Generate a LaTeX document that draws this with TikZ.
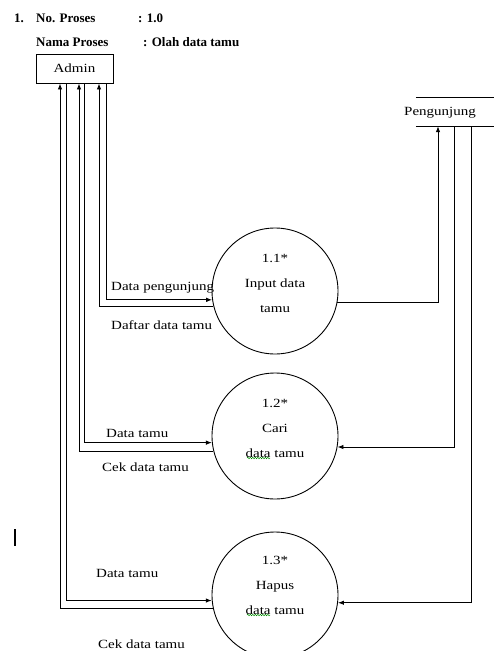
\documentclass[tikz,border=0pt]{standalone}
\usepackage{fontspec}
\setmainfont{Liberation Serif}[FakeStretch=1.2]
\newfontfamily\hdrfont{Liberation Serif}
\usetikzlibrary{arrows.meta,decorations.pathmorphing}
\begin{document}
\begin{tikzpicture}[x=1pt,y=-1pt,
  lbl/.style={font=\fontsize{12.5}{14}\selectfont, inner sep=0, anchor=west},
  hdr/.style={font=\hdrfont\bfseries\fontsize{13}{15}\selectfont, inner sep=0, anchor=west},
  ctext/.style={font=\fontsize{12.5}{25}\selectfont, align=center, inner sep=0},
  proc/.style={circle, draw, minimum size=126pt, inner sep=0, line width=0.9pt},
  ent/.style={draw, line width=0.9pt, minimum width=77pt, minimum height=29pt, inner sep=0, font=\fontsize{12.5}{14}\selectfont},
  flow/.style={line width=0.9pt, -{Latex[length=6pt,width=4.5pt]}},
  squig/.style={green!55!black, line width=0.5pt, decorate, decoration={snake, amplitude=0.7pt, segment length=2.5pt}}]
\useasboundingbox (0,0) rectangle (494,651);
% header
\node[hdr] (n1) at (14,18) {1.};
\node[hdr] (np) at (36,18) {No. Proses};
\node[hdr] (v1) at (138,18) {: 1.0};
\node[hdr] (nm) at (36,42) {Nama Proses};
\node[hdr] (v2) at (143,42) {: Olah data tamu};
% entities
\node[ent] (admin) at (74.5,68.5) {Admin};
\node[inner sep=0, minimum width=78pt, minimum height=28pt] (peng) at (455,112) {};
\draw[line width=0.9pt] (peng.north west) -- (peng.north east);
\draw[line width=0.9pt] (peng.south west) -- (peng.south east);
\node[lbl] (pengt) at (404,113) {Pengunjung};
% processes
\node[proc] (c11) at (275,291) {};
\node[proc] (c12) at (275,436) {};
\node[proc] (c13) at (275,595) {};
\node[ctext] (t11) at (275,283.5) {1.1*\\Input data\\tamu};
\node[ctext] (t12) at (275,428) {1.2*\\Cari\\data tamu};
\node[ctext] (t13) at (275,585) {1.3*\\Hapus\\data tamu};
\draw[squig] (247,458) -- (270,458);
\draw[squig] (247,615) -- (270,615);
% flows with Admin
\draw[flow] ([xshift=31.5]admin.south) |- (c11.188);
\draw[flow] (c11.194) -| ([xshift=24.5]admin.south);
\draw[flow] ([xshift=9.5]admin.south) |- (c12.186);
\draw[flow] (c12.194) -| ([xshift=4.5]admin.south);
\draw[flow] ([xshift=-8.5]admin.south) |- (c13.185.5);
\draw[flow] (c13.192) -| ([xshift=-14.5]admin.south);
% flows with Pengunjung
\draw[flow] (c11.-10) -| ([xshift=-17]peng.south);
\draw[flow] ([xshift=-1]peng.south) |- (c12.-10);
\draw[flow] ([xshift=16]peng.south) |- (c13.-7.5);
% labels
\node[lbl] (l1) at (111,288) {Data pengunjung};
\node[lbl] (l2) at (111,325) {Daftar data tamu};
\node[lbl] (l3) at (106,433) {Data tamu};
\node[lbl] (l4) at (102,467) {Cek data tamu};
\node[lbl] (l5) at (96,573) {Data tamu};
\node[lbl] (l6) at (98,644) {Cek data tamu};
% cursor mark
\fill (13.5,529) rectangle (16,546);
\end{tikzpicture}
\end{document}
